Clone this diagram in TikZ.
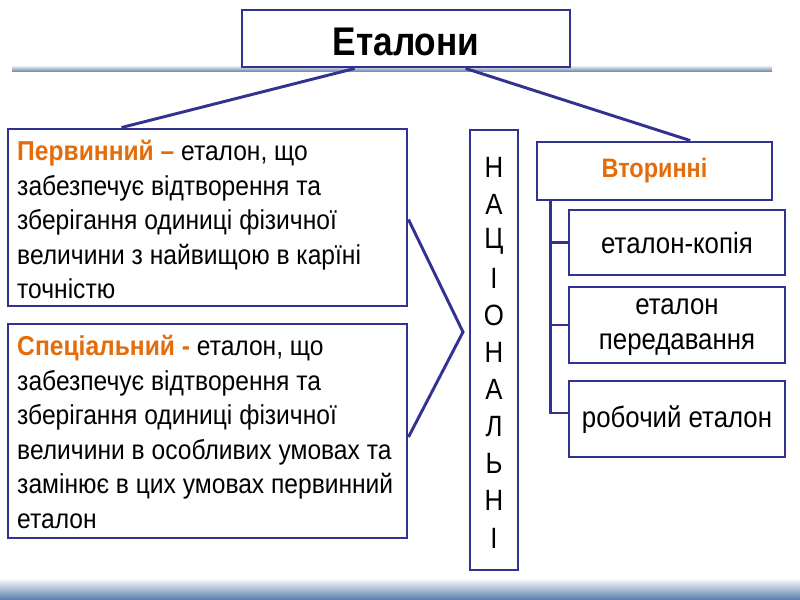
\documentclass[tikz,border=0pt]{standalone}
\usepackage{fontspec}
\setmainfont{Liberation Sans}
\usetikzlibrary{calc}
\definecolor{bord}{RGB}{50,50,145}
\definecolor{orng}{RGB}{228,108,10}
\definecolor{band}{RGB}{85,125,170}
\definecolor{lineg}{RGB}{120,145,180}
\tikzset{
  box/.style={draw=bord, line width=2.2pt, fill=white, inner sep=0pt},
  conn/.style={draw=bord, line width=2.2pt},
  txt/.style={inner sep=0pt, align=left, xscale=0.9, transform shape, font=\fontsize{20.5}{25.9}\selectfont},
  ctxt/.style={inner sep=0pt, align=center, xscale=0.88, transform shape, font=\fontsize{22}{26.5}\selectfont}
}
\newcommand{\hlt}[1]{{\color{orng}\bfseries #1}}
\begin{document}
\begin{tikzpicture}[x=0.75pt,y=-0.75pt]
\useasboundingbox (0,0) rectangle (800,600);
% decorative lines
\shade[top color=white, bottom color=lineg] (12,65) rectangle (772,71);
\shade[top color=white, bottom color=band] (0,578) rectangle (800,600);
% title
\node[box, minimum width=328*0.75pt, minimum height=57*0.75pt] (title) at (406,38.5) {};
\node[ctxt, font=\fontsize{30}{32}\selectfont\bfseries] (titlet) at (406,42) {Еталони};
% left boxes
\node[box, minimum width=399*0.75pt, minimum height=177*0.75pt] (perv) at (207.5,217.5) {};
\node[txt, anchor=north west] (pervt) at (17,140) {\hlt{Первинний –} еталон, що\\забезпечує відтворення та\\зберігання одиниці фізичної\\величини з найвищою в карїні\\точністю};
\node[box, minimum width=399*0.75pt, minimum height=214*0.75pt] (spec) at (207.5,431) {};
\node[txt, anchor=north west] (spect) at (17,335) {\hlt{Спеціальний -} еталон, що\\забезпечує відтворення та\\зберігання одиниці фізичної\\величини в особливих умовах та\\замінює в цих умовах первинний\\еталон};
% national
\node[box, minimum width=48*0.75pt, minimum height=440*0.75pt] (nat) at (494,350) {};
\foreach \l [count=\i from 0] in {Н,А,Ц,І,О,Н,А,Л,Ь,Н,І}
  \node[ctxt] (nl\i) at (494,{167+37.1*\i}) {\l};
% secondary
\node[box, minimum width=235*0.75pt, minimum height=58*0.75pt] (sec) at (654.5,171) {};
\node[ctxt, font=\fontsize{20}{22}\selectfont\bfseries, text=orng] (sect) at (654.5,171) {Вторинні};
\node[box, minimum width=216*0.75pt, minimum height=65*0.75pt] (copy) at (677,242.5) {};
\node[ctxt] (copyt) at (677,243.5) {еталон-копія};
\node[box, minimum width=216*0.75pt, minimum height=76*0.75pt] (trans) at (677,325) {};
\node[ctxt] (transt) at (677,327) {еталон\\передавання};
\node[box, minimum width=216*0.75pt, minimum height=76*0.75pt] (work) at (677,419) {};
\node[ctxt] (workt) at (677,420) {робочий еталон};
% connectors
\draw[conn] ($(title.south west)!0.345!(title.south east)$) -- ($(perv.north west)!0.286!(perv.north east)$);
\draw[conn] ($(title.south west)!0.68!(title.south east)$) -- ($(sec.north west)!0.65!(sec.north east)$);
\coordinate (tip) at (463,332);
\draw[conn] ($(perv.east)+(0,2)$) -- (tip) -- ($(spec.east)+(0,6)$);
\coordinate (trunk) at ($(sec.south west)+(15,0)$);
\draw[conn] (trunk) |- ($(work.west)+(0,-6)$);
\draw[conn] (trunk |- copy.west) -- (copy.west);
\draw[conn] (trunk |- trans.west) -- (trans.west);
\end{tikzpicture}
\end{document}
